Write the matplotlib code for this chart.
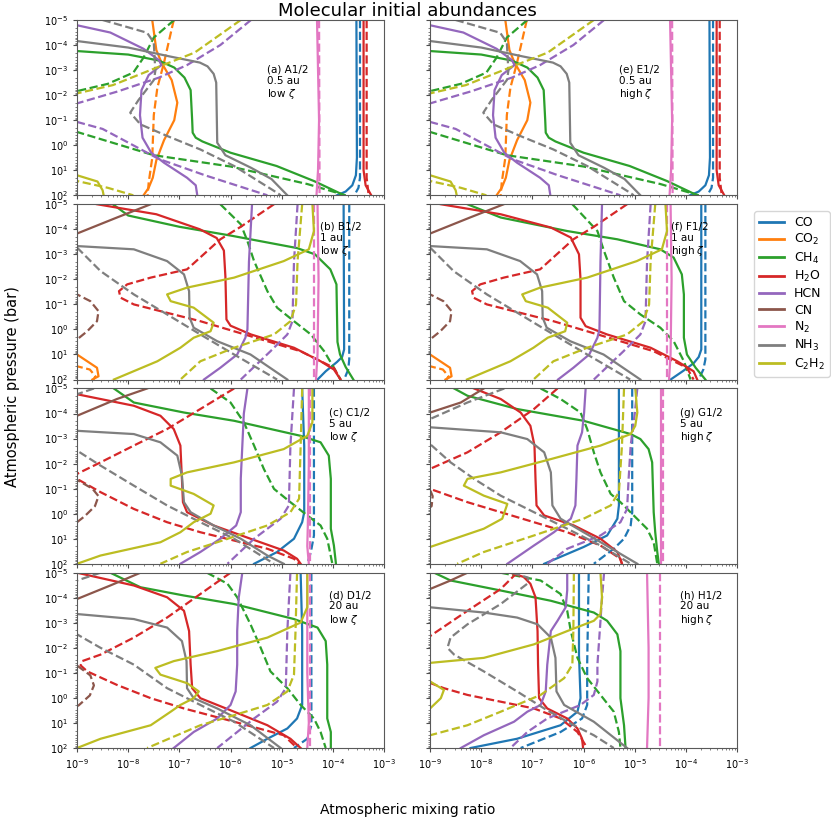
import matplotlib
matplotlib.use("Agg")
import matplotlib.pyplot as plt
import numpy as np

# species, legend labels and colours
SPECIES = ["CO", "CO2", "CH4", "H2O", "HCN", "CN", "N2", "NH3", "C2H2"]
LABELS = ["CO", "CO$_2$", "CH$_4$", "H$_2$O", "HCN", "CN", "N$_2$", "NH$_3$", "C$_2$H$_2$"]
COLORS = ["#1f77b4", "#ff7f0e", "#2ca02c", "#d62728", "#9467bd",
          "#8c564b", "#e377c2", "#7f7f7f", "#bcbd22"]

PANEL_TEXT = ["(a) A1/2\n0.5 au\nlow $\\zeta$", "(b) B1/2\n1 au\nlow $\\zeta$",
              "(c) C1/2\n5 au\nlow $\\zeta$", "(d) D1/2\n20 au\nlow $\\zeta$",
              "(e) E1/2\n0.5 au\nhigh $\\zeta$", "(f) F1/2\n1 au\nhigh $\\zeta$",
              "(g) G1/2\n5 au\nhigh $\\zeta$", "(h) H1/2\n20 au\nhigh $\\zeta$"]

# each curve: list of (log10 mixing ratio, log10 pressure [bar]); [solid, dashed]
# ---- panel (a) A1/2, 0.5 au, low zeta
A_CO = [[(-3.54,-5),(-3.53,0.5),(-3.55,1.2),(-3.62,1.6),(-3.75,1.85),(-3.92,2)],
        [(-3.47,-5),(-3.47,1.3),(-3.5,1.7),(-3.58,2)]]
A_CO2 = [[(-7.53,-5),(-7.45,-3.8),(-7.35,-3.3),(-7.15,-2.6),(-7.04,-1.7),(-7.1,-1.0),(-7.3,-0.2),(-7.45,0.6),(-7.52,1.3),(-7.6,1.7),(-7.7,2)],
         [(-7.11,-5),(-7.3,-3.3),(-7.43,-2.3),(-7.5,-1.2),(-7.53,0.5),(-7.6,1.5),(-7.62,2)]]
A_CH4 = [[(-9,-3.76),(-8,-3.62),(-7.4,-3.38),(-7.1,-3.1),(-6.9,-2.7),(-6.78,-2.2),(-6.75,-1),(-6.74,-0.5),(-6.68,-0.3),(-6.55,-0.15),(-6.0,0.3),(-5.1,0.83),(-4.37,1.43),(-3.78,2)],
         [(-7.1,-5),(-7.5,-4.3),(-7.7,-3.5),(-7.9,-2.9),(-8.4,-2.45),(-9,-2.16),(-9.6,-1.5),(-9,-0.53),(-7.5,0.4),(-6,0.85),(-4.5,1.55),(-3.75,2)]]
A_H2O = [[(-3.40,-5),(-3.40,1.0),(-3.36,1.6),(-3.25,2)],
         [(-3.34,-5),(-3.34,1.3),(-3.30,2)]]
A_HCN = [[(-9,-4.79),(-8.35,-4.5),(-7.7,-3.85),(-7.4,-3.4),(-7.35,-3.2),(-7.6,-2.8),(-7.74,-2.2),(-7.77,-1.2),(-7.72,-0.3),(-7.55,0.3),(-7.3,0.7),(-6.85,1.3),(-6.68,1.6),(-6.65,2)],
         [(-5.6,-5),(-6.2,-4),(-6.85,-3.2),(-7.4,-2.7),(-8.2,-2.15),(-9,-1.67),(-9.6,-1.3),(-9,-0.93),(-8.5,-0.65),(-7.4,0.55),(-6.5,1.2),(-5.28,2)]]
A_CN = [[], []]
A_N2 = [[(-4.31,-5),(-4.27,-1),(-4.29,1),(-4.32,2)],
        [(-4.27,-5),(-4.26,2)]]
A_NH3 = [[(-9,-4.16),(-8,-3.9),(-7.2,-3.55),(-6.6,-3.3),(-6.45,-3.15),(-6.33,-2.85),(-6.28,-2.5),(-6.26,-0.1),(-6.1,0.4),(-5.6,0.9),(-5.2,1.35),(-4.89,2)],
         [(-8.5,-5),(-7.63,-4.49),(-7.5,-4.1),(-7.47,-2.96),(-7.5,-2.6),(-7.8,-1.8),(-7.96,-1.3),(-7.76,-0.83),(-7.24,-0.37),(-6.59,0.17),(-5.93,0.83),(-5.09,1.9),(-5.02,2)]]
A_C2H2 = [[(-9.5,1.0),(-9,1.2),(-8.6,1.45),(-8.5,1.8),(-8.48,2)],
          [(-5.8,-5),(-6.7,-3.7),(-7.37,-3.16),(-8.3,-2.4),(-9,-2.07),(-9.6,0),(-9,1.43),(-8.4,1.7),(-7.9,2)]]

# ---- panel (b) B1/2, 1 au, low zeta
B_CO = [[(-3.79,-5),(-3.78,0.8),(-3.82,1.1),(-3.92,1.3),(-4.14,1.67),(-4.3,2)],
        [(-3.68,-5),(-3.68,1.2),(-3.7,1.6),(-3.78,2)]]
B_CO2 = [[(-9.5,0.8),(-9,1.0),(-8.61,1.53),(-8.58,1.87),(-8.7,2)],
         [(-9.5,1.3),(-9,1.47),(-8.75,1.6),(-8.64,1.87),(-8.68,2)]]
B_CH4 = [[(-8.3,-5),(-8.0,-4.55),(-7.0,-4.1),(-6.0,-3.75),(-4.7,-3.25),(-4.35,-3.0),(-4.05,-2.4),(-3.93,-1.8),(-3.91,0.5),(-3.86,1.0),(-3.75,1.5),(-3.6,2)],
         [(-6.2,-5),(-5.8,-4.2),(-5.67,-3.53),(-5.54,-2.73),(-5.28,-1.53),(-5.09,-0.87),(-4.76,-0.33),(-4.43,0.2),(-4.17,0.87),(-3.98,1.53),(-3.85,2)]]
B_H2O = [[(-8.61,-5),(-7.45,-4.6),(-6.6,-4.0),(-6.27,-3.65),(-6.13,-3.15),(-6.1,-2.1),(-6.08,-0.4),(-6.0,-0.15),(-5.6,0.2),(-4.76,0.73),(-4.24,1.27),(-3.98,1.6),(-3.85,2)],
         [(-5.15,-5),(-5.8,-4.1),(-6.2,-3.6),(-6.85,-2.4),(-7.56,-2.07),(-8.02,-1.8),(-8.18,-1.53),(-8.15,-1.27),(-7.89,-1.0),(-6.59,-0.33),(-5.28,0.47),(-4.63,0.87),(-3.98,1.53),(-3.85,2)]]
B_HCN = [[(-5.58,-5),(-5.64,-2.7),(-5.67,0),(-5.71,0.33),(-5.87,1.0),(-6.2,1.53),(-6.52,2)],
         [(-4.69,-5),(-4.76,-2.7),(-4.79,-0.33),(-4.89,0.2),(-5.22,0.87),(-5.8,2)]]
B_CN = [[(-9,-3.83),(-8.22,-4.47),(-7.56,-5)],
        [(-9.3,-1.6),(-9,-1.4),(-8.74,-1.13),(-8.58,-0.73),(-8.61,-0.33),(-8.8,0.07),(-9,0.4),(-9.3,0.6)]]
B_N2 = [[(-4.3,-5),(-4.28,-2),(-4.3,1),(-4.33,2)],
        [(-4.37,-5),(-4.37,2)]]
B_NH3 = [[(-9,-3.33),(-7.89,-3.2),(-7.24,-2.73),(-6.91,-2.2),(-6.81,-1.53),(-6.8,-0.47),(-6.72,-0.07),(-6.26,0.47),(-5.61,1.0),(-4.89,2)],
         [(-9,-3.27),(-8.54,-2.33),(-7.89,-1.4),(-7.24,-0.6),(-6.59,0.2),(-5.93,1.0),(-5.09,2)]]
B_C2H2 = [[(-4.4,-5),(-4.37,-3.93),(-4.47,-3.2),(-4.96,-2.73),(-5.93,-2.07),(-6.85,-1.67),(-7.24,-1.4),(-7.17,-1.13),(-6.72,-0.87),(-6.33,-0.27),(-6.39,0.07),(-6.72,0.33),(-6.98,0.73),(-7.43,1.27),(-8.28,2)],
          [(-4.6,-5),(-4.69,-2.73),(-4.72,-1.0),(-4.83,-0.33),(-5.15,0.2),(-5.93,0.73),(-6.59,1.27),(-6.98,2)]]

# ---- panel (c) C1/2, 5 au, low zeta
C_CO = [[(-4.6,-5),(-4.56,-2.7),(-4.56,-0.06),(-4.6,0.34),(-4.76,1.0),(-5.09,1.53),(-5.54,2)],
        [(-4.37,-5),(-4.37,0.87),(-4.43,1.53),(-4.5,2)]]
C_CO2 = [[], []]
C_CH4 = [[(-8.28,-5),(-7.89,-4.44),(-6.91,-4.04),(-5.93,-3.71),(-4.63,-3.11),(-4.24,-2.85),(-4.08,-2.32),(-4.04,-1.39),(-4.04,0.6),(-3.98,1.27),(-3.94,2)],
         [(-6.39,-5),(-6.0,-4.44),(-5.74,-3.65),(-5.54,-2.72),(-5.35,-1.79),(-5.15,-0.99),(-4.83,-0.46),(-4.5,0.07),(-4.24,0.47),(-4.11,1.0),(-4.01,2)]]
C_H2O = [[(-9.5,-4.9),(-9,-4.77),(-7.89,-4.31),(-7.37,-3.91),(-7.11,-3.38),(-6.98,-2.72),(-6.95,-1.39),(-6.93,-0.46),(-6.85,-0.06),(-6.33,0.47),(-5.61,1.0),(-4.96,1.47),(-4.7,1.8),(-4.63,2)],
         [(-5.93,-5),(-6.59,-4.18),(-7.24,-3.38),(-7.89,-2.72),(-8.54,-2.05),(-9,-1.59),(-9.3,-1.5),(-9,-1.39),(-8.54,-0.86),(-7.89,-0.19),(-7.24,0.34),(-6.59,0.74),(-5.28,1.4),(-4.76,1.8),(-4.66,2)]]
C_HCN = [[(-5.67,-5),(-5.74,-4.0),(-5.77,-2.7),(-5.8,-1.4),(-5.8,-0.06),(-5.89,0.47),(-6.2,1.0),(-6.59,1.53),(-6.98,2)],
         [(-4.76,-5),(-4.83,-2.7),(-4.86,-0.33),(-5.02,0.2),(-5.54,1.0),(-6.06,2)]]
C_CN = [[(-9,-3.91),(-8.22,-4.58),(-7.63,-5)],
        [(-9.3,-1.6),(-9,-1.35),(-8.7,-1.0),(-8.58,-0.7),(-8.65,-0.3),(-8.85,0.1),(-9,0.34),(-9.3,0.5)]]
C_N2 = [[(-4.47,-5),(-4.47,-2),(-4.49,0.5),(-4.5,1.3),(-4.47,2)],
        [(-4.44,-5),(-4.44,2)]]
C_NH3 = [[(-9,-3.31),(-7.89,-3.18),(-7.37,-2.85),(-7.04,-2.32),(-6.95,-1.52),(-6.91,-0.46),(-6.78,-0.06),(-6.33,0.47),(-5.8,1.0),(-5.28,1.67),(-4.96,2)],
         [(-8.67,-5),(-9,-4.77),(-9.5,-4),(-9.5,-3),(-9,-2.52),(-8.54,-1.92),(-7.89,-1.12),(-7.24,-0.33),(-6.59,0.34),(-5.93,1.0),(-5.15,2)]]
C_C2H2 = [[(-4.4,-5),(-4.4,-3.65),(-4.5,-3.11),(-4.96,-2.58),(-5.93,-2.05),(-6.85,-1.65),(-7.17,-1.39),(-7.17,-1.12),(-6.72,-0.79),(-6.33,-0.33),(-6.39,0.0),(-6.72,0.34),(-6.98,0.74),(-7.37,1.14),(-8.54,1.67),(-9,2)],
          [(-4.6,-5),(-4.63,-2.7),(-4.66,-0.6),(-4.83,-0.06),(-5.28,0.47),(-6.26,1.14),(-6.85,1.53),(-7.37,2)]]

# ---- panel (d) D1/2, 20 au, low zeta
D_CO = [[(-4.63,-5),(-4.6,-2.67),(-4.6,0.28),(-4.7,0.82),(-4.89,1.22),(-5.28,1.63),(-5.61,2)],
        [(-4.42,-5),(-4.42,1.09),(-4.5,1.63),(-4.76,2)]]
D_CO2 = [[], []]
D_CH4 = [[(-8.35,-5),(-7.76,-4.42),(-6.91,-4.09),(-5.93,-3.75),(-4.76,-3.15),(-4.3,-2.81),(-4.14,-2.27),(-4.11,-1.33),(-4.11,0.82),(-4.04,1.36),(-4.04,2)],
         [(-6.46,-5),(-6.06,-4.56),(-5.87,-4.02),(-5.61,-2.94),(-5.41,-2.0),(-5.22,-1.06),(-4.89,-0.39),(-4.63,0.28),(-4.37,0.82),(-4.24,1.36),(-4.14,2)]]
D_H2O = [[(-9,-5),(-7.89,-4.49),(-7.24,-4.02),(-6.91,-3.48),(-6.81,-2.67),(-6.78,-1.33),(-6.75,-0.39),(-6.59,0.01),(-5.93,0.55),(-5.28,1.09),(-4.83,1.63),(-4.63,2)],
         [(-6.0,-5),(-6.59,-4.15),(-7.24,-3.21),(-7.89,-2.41),(-8.54,-1.73),(-8.9,-1.47),(-8.93,-1.3),(-8.8,-1.06),(-8.22,-0.52),(-7.56,0.01),(-6.91,0.42),(-5.93,0.95),(-4.96,1.49),(-4.7,2)]]
D_HCN = [[(-5.77,-5),(-5.84,-4),(-5.87,-2.67),(-5.87,-1.33),(-5.9,-0.26),(-6.0,0.28),(-6.26,0.82),(-6.72,1.36),(-7.11,2)],
         [(-4.83,-5),(-4.89,-2.67),(-4.92,-0.39),(-5.09,0.15),(-5.54,0.82),(-6.26,2)]]
D_CN = [[(-9,-3.95),(-8.35,-4.49),(-7.76,-5)],
        [(-9.2,-1.5),(-8.97,-1.25),(-8.74,-0.9),(-8.67,-0.5),(-8.75,-0.1),(-8.97,0.3),(-9.2,0.5)]]
D_N2 = [[(-4.5,-5),(-4.5,-1),(-4.47,1),(-4.5,2)],
        [(-4.45,-5),(-4.45,2)]]
D_NH3 = [[(-9,-3.35),(-7.89,-3.15),(-7.24,-2.81),(-6.95,-2.27),(-6.86,-1.47),(-6.85,-0.39),(-6.72,0.01),(-6.26,0.42),(-5.61,1.09),(-5.02,2)],
         [(-8.54,-5),(-9,-4.69),(-9.5,-4),(-9.5,-3),(-9,-2.54),(-8.54,-2.0),(-7.89,-1.33),(-7.24,-0.39),(-6.59,0.28),(-5.93,0.95),(-5.15,2)]]
D_C2H2 = [[(-4.5,-5),(-4.5,-3.62),(-4.63,-3.01),(-5.28,-2.41),(-6.26,-1.87),(-7.11,-1.47),(-7.47,-1.2),(-7.37,-0.93),(-6.85,-0.59),(-6.62,-0.26),(-6.72,0.01),(-6.98,0.28),(-7.17,0.55),(-7.56,1.09),(-8.54,1.63),(-9,2)],
          [(-4.7,-5),(-4.73,-2.67),(-4.76,-0.93),(-4.89,-0.26),(-5.28,0.28),(-5.93,0.69),(-6.59,1.09),(-7.63,2)]]

# ---- panel (e) E1/2, 0.5 au, high zeta (read identical to panel a)
E_CO, E_CO2, E_CH4, E_H2O, E_HCN = A_CO, A_CO2, A_CH4, A_H2O, A_HCN
E_CN, E_N2, E_NH3, E_C2H2 = A_CN, A_N2, A_NH3, A_C2H2

# ---- panel (f) F1/2, 1 au, high zeta
F_CO = [[(-3.7,-5),(-3.7,0.8),(-3.75,1.1),(-3.85,1.35),(-4.05,1.65),(-4.3,2)],
        [(-3.62,-5),(-3.62,1.2),(-3.66,1.6),(-3.75,2)]]
F_CO2 = B_CO2
F_CH4 = [[(-8.27,-5),(-7.62,-4.47),(-6.32,-3.93),(-5.34,-3.6),(-4.5,-3.2),(-4.24,-2.87),(-4.08,-2.2),(-4.04,-1.4),(-4.04,0.33),(-3.98,1.0),(-3.81,1.53),(-3.62,2)],
         [(-6.22,-5),(-5.73,-3.93),(-5.6,-3.13),(-5.41,-2.07),(-5.21,-1.13),(-4.89,-0.6),(-4.5,-0.07),(-4.24,0.47),(-4.04,1.27),(-3.91,2)]]
F_H2O = [[(-8.79,-5),(-7.62,-4.6),(-6.64,-4.07),(-6.25,-3.67),(-6.09,-3.0),(-6.06,-2.0),(-6.06,-0.47),(-5.96,-0.13),(-5.54,0.2),(-4.69,0.73),(-4.17,1.27),(-3.85,1.67),(-3.78,2)],
         B_H2O[1]]
F_HCN = [[(-5.64,-5),(-5.67,-2.7),(-5.69,0),(-5.73,0.33),(-5.89,1.0),(-6.2,1.53),(-6.5,2)],
         B_HCN[1]]
F_CN = B_CN
F_N2 = B_N2
F_NH3 = B_NH3
F_C2H2 = [[(-4.4,-5),(-4.37,-3.93),(-4.47,-3.2),(-4.96,-2.73),(-5.93,-2.07),(-6.85,-1.67),(-7.2,-1.4),(-7.13,-1.13),(-6.7,-0.87),(-6.32,-0.27),(-6.36,0.07),(-6.7,0.33),(-6.98,0.73),(-7.43,1.27),(-8.28,2)],
          B_C2H2[1]]

# ---- panel (g) G1/2, 5 au, high zeta
G_CO = [[(-5.31,-5),(-5.31,-1.39),(-5.31,-0.33),(-5.34,0.2),(-5.54,0.87),(-6.0,1.33),(-6.77,2)],
        [(-5.05,-5),(-5.05,-0.06),(-5.08,0.47),(-5.21,1.0),(-5.41,1.4),(-5.8,2)]]
G_CO2 = [[], []]
G_CH4 = [[(-8.53,-5),(-8.27,-4.71),(-7.3,-4.18),(-6.0,-3.71),(-5.08,-3.18),(-4.89,-2.98),(-4.73,-2.58),(-4.66,-2.05),(-4.63,-0.06),(-4.6,0.74),(-4.56,1.53),(-4.53,2)],
         [(-6.84,-5),(-6.45,-4.58),(-6.06,-4.04),(-5.93,-3.38),(-5.8,-2.45),(-5.67,-1.65),(-5.47,-0.79),(-5.28,-0.46),(-5.02,0.07),(-4.76,0.6),(-4.63,1.14),(-4.56,2)]]
G_H2O = [[(-8.14,-5),(-7.62,-4.58),(-7.23,-4.04),(-7.04,-3.51),(-6.96,-2.72),(-6.94,-1.39),(-6.92,-0.33),(-6.77,0.07),(-6.19,0.47),(-5.67,1.0),(-5.34,1.53),(-5.25,2)],
         [(-6.51,-5),(-6.97,-4.18),(-7.62,-3.25),(-8.27,-2.45),(-9,-1.79),(-9.4,-1.4),(-9,-0.99),(-8.27,-0.46),(-7.62,-0.06),(-6.97,0.34),(-6.32,0.74),(-5.67,1.27),(-5.28,1.8),(-5.25,2)]]
G_HCN = [[(-5.96,-5),(-5.99,-4.04),(-6.03,-3.25),(-6.12,-2.72),(-6.14,-1.39),(-6.16,-0.33),(-6.25,0.2),(-6.58,0.74),(-6.97,1.27),(-7.49,2)],
         [(-4.95,-5),(-5.0,-4.0),(-5.08,-2.72),(-5.12,-1.39),(-5.15,-0.19),(-5.28,0.34),(-5.67,0.87),(-6.32,1.4),(-6.71,2)]]
G_CN = [[(-9,-4.04),(-8.4,-4.44),(-7.95,-5)],
        [(-9.2,-1.1),(-9,-0.95),(-8.95,-0.7),(-8.97,-0.3),(-9.2,0.0)]]
G_N2 = [[(-4.48,-5),(-4.48,2)],
        [(-4.45,-5),(-4.45,2)]]
G_NH3 = [[(-9,-3.45),(-7.62,-3.25),(-7.1,-2.98),(-6.77,-2.45),(-6.64,-1.65),(-6.61,-0.33),(-6.45,0.2),(-6.0,0.74),(-5.34,1.53),(-4.95,2)],
         [(-7.55,-5),(-8.27,-4.44),(-9,-3.78),(-9.4,-3.2),(-9,-2.78),(-8.6,-2.05),(-8.14,-1.39),(-7.62,-0.72),(-6.97,-0.06),(-6.32,0.6),(-5.67,1.27),(-5.08,2)]]
G_C2H2 = [[(-4.99,-5),(-4.95,-4.04),(-4.99,-3.51),(-5.08,-3.18),(-5.67,-2.72),(-6.64,-2.18),(-7.62,-1.65),(-8.27,-1.39),(-8.34,-1.12),(-7.95,-0.72),(-7.49,-0.39),(-7.59,0.2),(-7.95,0.6),(-9,1.33),(-9.5,1.6)],
          [(-5.21,-5),(-5.25,-2.72),(-5.31,-0.86),(-5.47,-0.33),(-6.0,0.2),(-6.97,0.87),(-7.95,1.53),(-8.47,2)]]

# ---- panel (h) H1/2, 20 au, high zeta
H_CO = [[(-6.09,-5),(-6.09,-1.7),(-6.06,0.01),(-6.12,0.55),(-6.45,1.09),(-7.3,1.63),(-8.21,2)],
        [(-5.9,-5),(-5.93,-1.33),(-5.93,0.28),(-6.03,0.82),(-6.45,1.36),(-7.23,2)]]
H_CO2 = [[], []]
H_CH4 = [[(-8.92,-5),(-8.6,-4.69),(-7.62,-4.29),(-6.64,-3.88),(-5.8,-3.41),(-5.54,-3.08),(-5.34,-2.54),(-5.28,-1.87),(-5.28,0.01),(-5.21,1.09),(-5.18,2)],
         [(-7.62,-5),(-6.84,-4.69),(-6.45,-4.15),(-6.32,-3.48),(-6.25,-2.67),(-6.12,-1.6),(-5.93,-0.79),(-5.67,-0.12),(-5.41,0.55),(-5.31,1.36),(-5.28,2)]]
H_H2O = [[(-7.43,-5),(-7.17,-4.83),(-7.04,-4.56),(-6.94,-4.02),(-6.9,-2.67),(-6.89,-1.33),(-6.87,0.01),(-6.71,0.42),(-6.32,0.82),(-6.12,1.22),(-6.03,1.63),(-6.01,2)],
         [(-7.3,-5),(-7.62,-4.35),(-8.27,-3.48),(-9,-2.47),(-9.5,-1.5),(-9,-0.6),(-8.73,-0.39),(-8.27,-0.12),(-7.62,0.15),(-6.97,0.42),(-6.45,0.82),(-6.12,1.36),(-5.93,2)]]
H_HCN = [[(-6.32,-5),(-6.32,-4.3),(-6.35,-3.62),(-6.51,-3.08),(-6.64,-2.67),(-6.71,-1.33),(-6.74,-0.26),(-6.84,0.28),(-7.1,0.55),(-7.36,0.95),(-7.95,1.49),(-8.4,2)],
         [(-5.6,-5),(-5.64,-4.0),(-5.67,-3.08),(-5.73,-1.33),(-5.73,-0.66),(-5.8,-0.12),(-6.06,0.28),(-6.71,0.82),(-7.1,1.36),(-7.43,2)]]
H_CN = [[(-9,-4.35),(-8.6,-4.69),(-8.27,-5)], []]
H_N2 = [[(-4.76,-5),(-4.73,-2),(-4.73,0),(-4.76,2)],
        [(-4.5,-5),(-4.5,2)]]
H_NH3 = [[(-9,-3.62),(-7.95,-3.41),(-7.3,-3.21),(-6.9,-2.94),(-6.64,-2.41),(-6.55,-1.6),(-6.53,-0.26),(-6.38,0.28),(-5.8,0.95),(-5.15,2)],
         [(-7.4,-5),(-7.08,-4.8),(-7.1,-4.56),(-7.62,-3.75),(-8.27,-2.94),(-8.6,-2.41),(-8.66,-2.0),(-8.53,-1.73),(-7.95,-1.06),(-7.3,-0.26),(-6.77,0.42),(-6.32,0.95),(-5.8,1.49),(-5.41,2)]]
H_C2H2 = [[(-5.67,-5),(-5.64,-4.0),(-5.67,-3.35),(-5.8,-3.08),(-6.32,-2.67),(-6.97,-2.14),(-7.95,-1.6),(-9,-1.4),(-9.5,-1.0),(-9,-0.66),(-8.73,-0.32),(-8.79,0.01),(-9,0.42),(-9.5,0.8)],
          [(-6.19,-5),(-6.2,-2.67),(-6.22,-1.33),(-6.38,-0.79),(-6.84,-0.12),(-7.62,0.55),(-8.27,1.09),(-9,1.49),(-9.5,1.8)]]

PANELS = [
    [A_CO, A_CO2, A_CH4, A_H2O, A_HCN, A_CN, A_N2, A_NH3, A_C2H2],
    [B_CO, B_CO2, B_CH4, B_H2O, B_HCN, B_CN, B_N2, B_NH3, B_C2H2],
    [C_CO, C_CO2, C_CH4, C_H2O, C_HCN, C_CN, C_N2, C_NH3, C_C2H2],
    [D_CO, D_CO2, D_CH4, D_H2O, D_HCN, D_CN, D_N2, D_NH3, D_C2H2],
    [E_CO, E_CO2, E_CH4, E_H2O, E_HCN, E_CN, E_N2, E_NH3, E_C2H2],
    [F_CO, F_CO2, F_CH4, F_H2O, F_HCN, F_CN, F_N2, F_NH3, F_C2H2],
    [G_CO, G_CO2, G_CH4, G_H2O, G_HCN, G_CN, G_N2, G_NH3, G_C2H2],
    [H_CO, H_CO2, H_CH4, H_H2O, H_HCN, H_CN, H_N2, H_NH3, H_C2H2],
]
TEXT_POS = [(0.62, 0.745), (0.79, 0.90), (0.82, 0.89), (0.82, 0.90),
            (0.614, 0.745), (0.786, 0.90), (0.815, 0.89), (0.815, 0.90)]

fig, axes = plt.subplots(4, 2, figsize=(8.31, 8.23), dpi=100, sharex=True, sharey=True)
fig.subplots_adjust(left=0.0927, right=0.887, top=0.9757, bottom=0.0911,
                    wspace=0.15, hspace=0.051)

for k in range(8):
    col, row = divmod(k, 4)
    ax = axes[row, col]
    for s, curves in enumerate(PANELS[k]):
        for j, ls in enumerate(["-", "--"]):
            pts = curves[j] if len(curves) > j else []
            if not pts:
                continue
            lx = np.array([p[0] for p in pts])
            lp = np.array([p[1] for p in pts])
            ax.plot(10.0 ** lx, 10.0 ** lp, ls, color=COLORS[s], lw=1.6,
                    solid_joinstyle="round")
    ax.text(TEXT_POS[k][0], TEXT_POS[k][1], PANEL_TEXT[k], transform=ax.transAxes,
            fontsize=7.5, va="top", ha="left", linespacing=1.15)
    ax.set_xscale("log")
    ax.set_yscale("log")
    ax.set_xlim(1e-9, 1e-3)
    ax.set_ylim(1e2, 1e-5)
    ax.set_yticks([1e-5, 1e-4, 1e-3, 1e-2, 1e-1, 1e0, 1e1, 1e2])
    ax.set_xticks([1e-9, 1e-8, 1e-7, 1e-6, 1e-5, 1e-4, 1e-3])
    ax.tick_params(labelsize=7, length=3, width=0.8, color="0.3")
    ax.tick_params(which="minor", length=1.5, width=0.5, color="0.3")
    for sp in ax.spines.values():
        sp.set_color("0.35")

handles = [plt.Line2D([], [], color=COLORS[s], lw=2) for s in range(9)]
fig.legend(handles, LABELS, loc="upper left", bbox_to_anchor=(754 / 831, 1 - 211 / 823),
           fontsize=9, frameon=True, borderaxespad=0.0, handlelength=2.0,
           labelspacing=0.26)

fig.suptitle("Molecular initial abundances", x=0.49, y=0.998, fontsize=13)
fig.text(0.49, 0.016, "Atmospheric mixing ratio", ha="center", va="center", fontsize=10)
fig.text(0.015, 0.53, "Atmospheric pressure (bar)", ha="center", va="center",
         rotation=90, fontsize=10.5)

fig.savefig("out.png", dpi=100)
